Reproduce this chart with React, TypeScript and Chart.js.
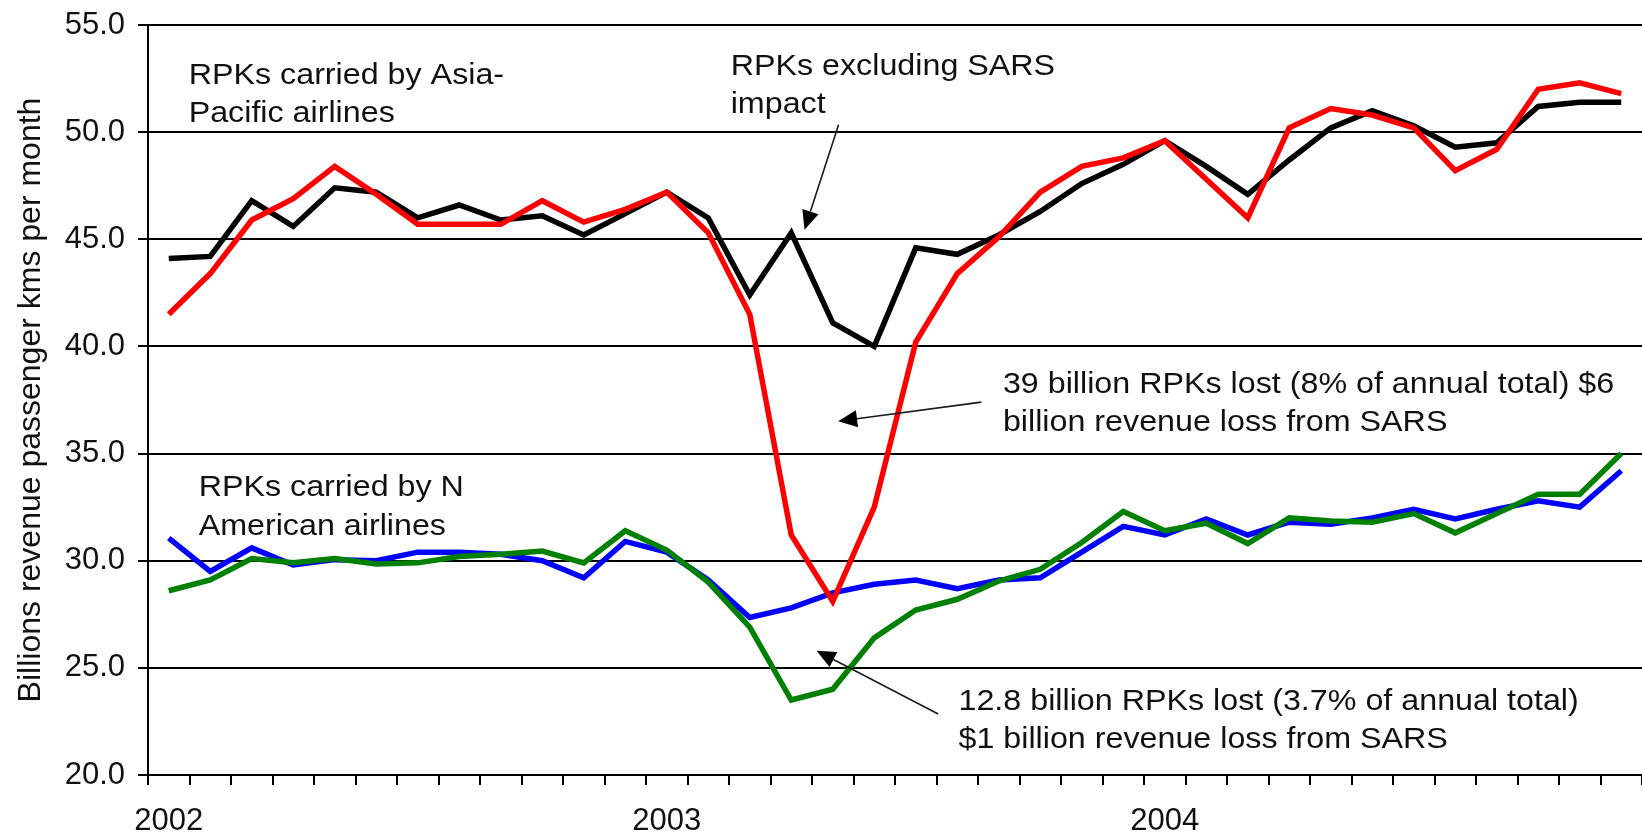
import React, { useEffect, useRef } from 'react';
import { Chart, registerables } from 'chart.js';

Chart.register(...registerables);

// ---------------- data ----------------
const months = [
  'Jan 2002', 'Feb 2002', 'Mar 2002', 'Apr 2002', 'May 2002', 'Jun 2002',
  'Jul 2002', 'Aug 2002', 'Sep 2002', 'Oct 2002', 'Nov 2002', 'Dec 2002',
  'Jan 2003', 'Feb 2003', 'Mar 2003', 'Apr 2003', 'May 2003', 'Jun 2003',
  'Jul 2003', 'Aug 2003', 'Sep 2003', 'Oct 2003', 'Nov 2003', 'Dec 2003',
  'Jan 2004', 'Feb 2004', 'Mar 2004', 'Apr 2004', 'May 2004', 'Jun 2004',
  'Jul 2004', 'Aug 2004', 'Sep 2004', 'Oct 2004', 'Nov 2004', 'Dec 2004',
];
const yearLabels = ['2002', '2003', '2004'];

// RPKs carried by Asia-Pacific airlines (actual)
const asiaPacificActual = [
  41.5, 43.4, 45.9, 46.9, 48.4, 47.1, 45.7, 45.7, 45.7, 46.8, 45.8, 46.4,
  47.2, 45.3, 41.5, 31.2, 28.1, 32.5, 40.2, 43.4, 45.1, 47.2, 48.4, 48.8,
  49.6, 47.8, 46.0, 50.2, 51.1, 50.8, 50.2, 48.2, 49.2, 52.0, 52.3, 51.8,
];
// Asia-Pacific RPKs excluding SARS impact
const asiaPacificExSars = [
  44.1, 44.2, 46.8, 45.6, 47.4, 47.2, 46.0, 46.6, 45.9, 46.1, 45.2, 46.2,
  47.2, 46.0, 42.4, 45.3, 41.1, 40.0, 44.6, 44.3, 45.2, 46.3, 47.6, 48.5,
  49.6, 48.4, 47.1, 48.7, 50.2, 51.0, 50.3, 49.3, 49.5, 51.2, 51.4, 51.4,
];
// RPKs carried by N American airlines (actual)
const northAmericaActual = [
  28.6, 29.1, 30.1, 29.9, 30.1, 29.85, 29.9, 30.2, 30.3, 30.45, 29.9, 31.4,
  30.5, 29.0, 26.9, 23.5, 24.0, 26.4, 27.7, 28.2, 29.05, 29.6, 30.85, 32.3,
  31.4, 31.75, 30.8, 32.0, 31.85, 31.8, 32.2, 31.3, 32.2, 33.1, 33.1, 35.0,
];
// N American RPKs excluding SARS impact
const northAmericaExSars = [
  31.05, 29.5, 30.6, 29.8, 30.05, 30.0, 30.4, 30.4, 30.3, 30.0, 29.2, 30.9,
  30.4, 29.1, 27.35, 27.8, 28.5, 28.9, 29.1, 28.7, 29.1, 29.2, 30.4, 31.6,
  31.2, 31.95, 31.2, 31.8, 31.7, 32.0, 32.4, 31.95, 32.4, 32.8, 32.5, 34.2,
];

const yMin = 20;
const yMax = 55;
const yStep = 5;
const yTitle = 'Billions revenue passenger kms per month';

// ---------------- annotations (anchored in data space) ----------------
const FONT = '"Liberation Sans", Arial, Helvetica, sans-serif';
const TEXT_COLOR = '#111111';

const notes = [
  { x: 0.48, y: 52.25, lines: ['RPKs carried by Asia-', 'Pacific airlines'] },
  { x: 13.54, y: 52.67, lines: ['RPKs excluding SARS', 'impact'] },
  { x: 20.1, y: 37.84, lines: ['39 billion RPKs lost (8% of annual total) $6', 'billion revenue loss from SARS'] },
  { x: 0.72, y: 33.02, lines: ['RPKs carried by N', 'American airlines'] },
  { x: 19.03, y: 23.05, lines: ['12.8 billion RPKs lost (3.7% of annual total)', '$1 billion revenue loss from SARS'] },
];

const arrows = [
  { from: [16.14, 50.34], to: [15.32, 45.45] },
  { from: [19.58, 37.4], to: [16.13, 36.51] },
  { from: [18.54, 22.85], to: [15.61, 25.8] },
];

const notesPlugin = {
  id: 'sarsNotes',
  afterDraw(chart: any) {
    const { ctx } = chart;
    const xs = chart.scales.x;
    const ys = chart.scales.y;
    ctx.save();
    ctx.fillStyle = TEXT_COLOR;
    ctx.font = `30px ${FONT}`;
    ctx.textBaseline = 'alphabetic';
    ctx.textAlign = 'left';
    const lineH = 38.5;
    const sx = 1.075;
    for (const n of notes) {
      const px = xs.getPixelForValue(n.x);
      const py = ys.getPixelForValue(n.y);
      n.lines.forEach((line, k) => {
        ctx.save();
        ctx.translate(px, py + k * lineH);
        ctx.scale(sx, 1);
        ctx.fillText(line, 0, 0);
        ctx.restore();
      });
    }
    // arrows
    ctx.strokeStyle = '#1a1a1a';
    ctx.fillStyle = '#000000';
    ctx.lineWidth = 1.6;
    const headLen = 19;
    const headHalf = 8.5;
    for (const a of arrows) {
      const x0 = xs.getPixelForValue(a.from[0]);
      const y0 = ys.getPixelForValue(a.from[1]);
      const x1 = xs.getPixelForValue(a.to[0]);
      const y1 = ys.getPixelForValue(a.to[1]);
      const dx = x1 - x0;
      const dy = y1 - y0;
      const len = Math.hypot(dx, dy);
      const ux = dx / len;
      const uy = dy / len;
      const bx = x1 - ux * headLen;
      const by = y1 - uy * headLen;
      ctx.beginPath();
      ctx.moveTo(x0, y0);
      ctx.lineTo(bx, by);
      ctx.stroke();
      ctx.beginPath();
      ctx.moveTo(x1, y1);
      ctx.lineTo(bx - uy * headHalf, by + ux * headHalf);
      ctx.lineTo(bx + uy * headHalf, by - ux * headHalf);
      ctx.closePath();
      ctx.fill();
    }
    ctx.restore();
  },
};

export default function App() {
  const canvasRef = useRef<HTMLCanvasElement>(null);

  useEffect(() => {
    const canvas = canvasRef.current;
    if (!canvas) return;
    const lineStyle = {
      pointRadius: 0,
      pointHoverRadius: 0,
      borderWidth: 5.5,
      tension: 0,
      fill: false,
    };
    const chart = new Chart(canvas, {
      type: 'line',
      data: {
        labels: months,
        datasets: [
          { label: 'RPKs carried by Asia-Pacific airlines', data: asiaPacificActual, borderColor: '#ff0000', backgroundColor: '#ff0000', ...lineStyle },
          { label: 'RPKs excluding SARS impact (Asia-Pacific)', data: asiaPacificExSars, borderColor: '#000000', backgroundColor: '#000000', ...lineStyle },
          { label: 'RPKs carried by N American airlines', data: northAmericaActual, borderColor: '#008000', backgroundColor: '#008000', ...lineStyle },
          { label: 'RPKs excluding SARS impact (N America)', data: northAmericaExSars, borderColor: '#0000ff', backgroundColor: '#0000ff', ...lineStyle },
        ],
      },
      options: {
        animation: false,
        responsive: true,
        maintainAspectRatio: false,
        layout: { padding: { top: 25, right: 0, bottom: 0, left: 0 } },
        plugins: {
          legend: { display: false },
          tooltip: { enabled: false },
        },
        scales: {
          x: {
            type: 'category',
            offset: true,
            grid: {
              display: true,
              offset: true,
              drawOnChartArea: false,
              drawTicks: true,
              tickLength: 10,
              color: '#000000',
              lineWidth: 2,
            },
            border: { display: true, color: '#000000', width: 2 },
            ticks: {
              autoSkip: false,
              maxRotation: 0,
              minRotation: 0,
              padding: 18,
              color: TEXT_COLOR,
              font: { family: FONT, size: 31 },
              callback: (_v: any, i: number) => (i % 12 === 0 ? yearLabels[i / 12] : ''),
            },
            afterFit: (s: any) => {
              s.height = 60;
              s.paddingLeft = 0;
              s.paddingRight = 0;
            },
          },
          y: {
            min: yMin,
            max: yMax,
            ticks: {
              stepSize: yStep,
              padding: 13,
              color: TEXT_COLOR,
              font: { family: FONT, size: 31 },
              callback: (v: any) => Number(v).toFixed(1),
            },
            grid: {
              color: '#000000',
              lineWidth: 2,
              drawTicks: true,
              tickLength: 10,
            },
            border: { display: true, color: '#000000', width: 2 },
            title: {
              display: true,
              text: yTitle,
              color: TEXT_COLOR,
              font: { family: FONT, size: 32 },
              padding: { top: 12, bottom: 0 },
            },
            afterFit: (s: any) => {
              s.width = 148;
              s.paddingTop = 0;
              s.paddingBottom = 0;
            },
          },
        },
      },
      plugins: [notesPlugin],
    } as any);
    return () => chart.destroy();
  }, []);

  return (
    <div style={{ position: 'absolute', left: 0, top: 0, width: 1642, height: 835 }}>
      <canvas ref={canvasRef} />
    </div>
  );
}
